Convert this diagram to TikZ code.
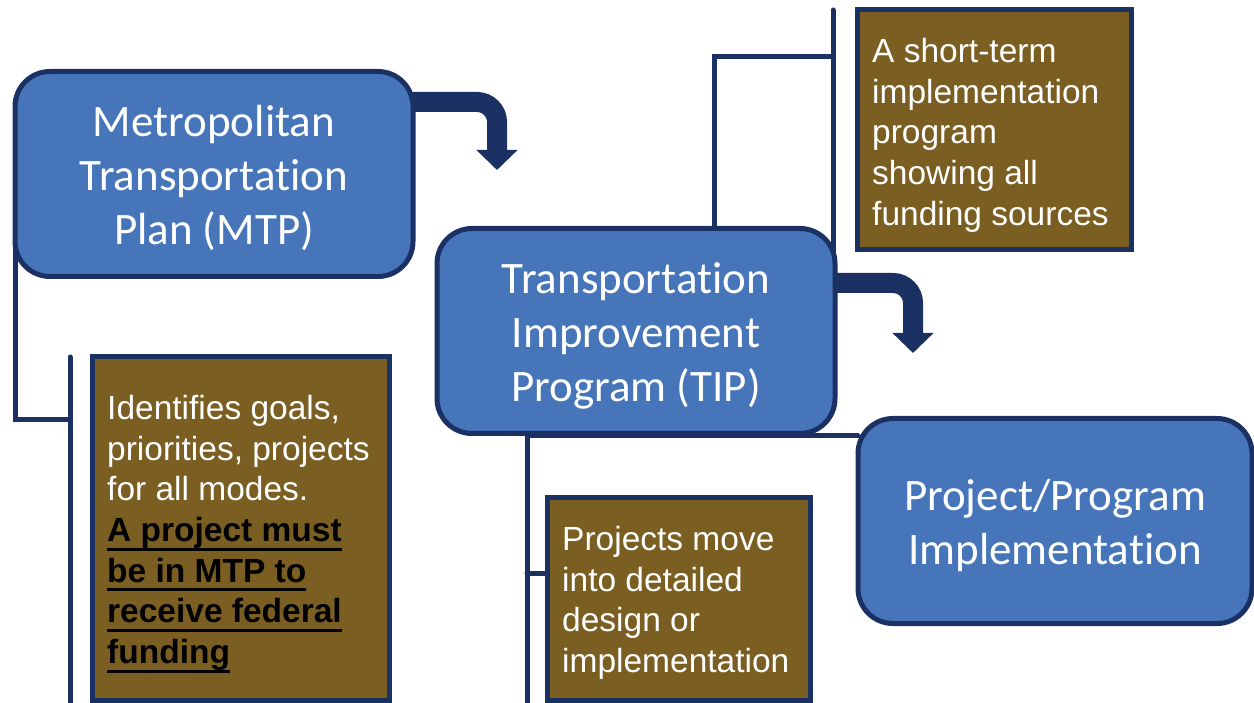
\documentclass[tikz,border=0pt]{standalone}
\usepackage{fontspec}
\setmainfont{Liberation Sans}
\newfontfamily\calibri[RawFeature={-liga;-clig;-dlig;-calt}]{Carlito}
\usetikzlibrary{arrows.meta,calc,backgrounds}
\definecolor{bluebox}{RGB}{70,117,186}
\definecolor{navy}{RGB}{27,48,99}
\definecolor{bronzo}{RGB}{123,94,33}
\newcommand\sottolinea[1]{\leavevmode\setbox0\hbox{#1}\rlap{\rule[-9pt]{\wd0}{3pt}}\box0}
\newcommand\alzo{\rule{0pt}{40pt}}
\tikzset{
>=Stealth,
main node/.style={draw=navy,fill=bluebox,line width=5pt,rounded corners=35pt,minimum width=398pt,minimum height=205pt,outer sep=0pt,text=white,align=center,font=\calibri\fontsize{45}{54}\selectfont},
note box/.style={draw=navy,fill=bronzo,line width=5pt,anchor=north west,outer sep=0pt},
note text/.style={anchor=north west,inner sep=0pt,text=white,align=left,font=\fontsize{33.5}{40.7}\selectfont},
linea/.style={draw=navy,line width=5pt,line cap=round},
freccia/.style={draw=navy,line width=20pt,rounded corners=20pt,-{Triangle[length=20pt,width=40pt]}}}

\begin{document}
\begin{tikzpicture}[x=1pt,y=-1pt]
\useasboundingbox (0,0) rectangle (1254,703);

\node[main node] (mtp) at (214,174) {\alzo Metropolitan\\Transportation\\Plan (MTP)};
\node[main node] (tip) at (636,331) {\alzo Transportation\\Improvement\\Program (TIP)};
\node[main node,minimum width=394pt] (ppi) at (1055,521) {\alzo Project/Program\\Implementation};

\node[note box,minimum width=274pt,minimum height=240pt] (n1) at (857,10) {};
\node[note box,minimum width=297pt,minimum height=343pt] (n2) at (92,357) {};
\node[note box,minimum width=263pt,minimum height=203pt] (n3) at (547,497) {};

\node[note text] (t1) at ([shift={(15,28)}]n1.north west) {A short-term\\implementation\\program\\showing all\\funding sources};
\node[note text] (t2) at ([shift={(15,38)}]n2.north west) {Identifies goals,\\priorities, projects\\for all modes.\\
  \color{black}\bfseries\sottolinea{A project must}\\
  \color{black}\bfseries\sottolinea{be in MTP to}\\
  \color{black}\bfseries\sottolinea{receive federal}\\
  \color{black}\bfseries\sottolinea{funding}};
\node[note text] (t3) at ([shift={(15,29)}]n3.north west) {Projects move\\into detailed\\design or\\implementation};

\coordinate (a1) at (70,420);
\coordinate (b1) at (70,357);
\coordinate (b2) at (70,710);
\coordinate (c1) at (714,57);
\coordinate (c2) at (833,57);
\coordinate (c3) at (833,10);
\coordinate (c4) at (833,260);
\coordinate (d1) at (527,436);
\coordinate (d2) at (527,710);
\coordinate (e1) at (527,573);
\coordinate (f1) at (497,170);
\coordinate (f2) at (913,353);

\begin{pgfonlayer}{background}
\draw[linea] (mtp.west) |- (a1);
\draw[linea] (b1) -- (b2);
\draw[linea] (tip.north -| c1) -- (c1) -- (c2);
\draw[linea] (c3) -- (c4);
\draw[linea] (tip.south -| d1) -- (d2);
\draw[linea] (d1) -- (d1 -| ppi.west);
\draw[linea] (e1) -- (e1 -| n3.west);
\draw[freccia] ([yshift=72pt]mtp.east) -| (f1);
\draw[freccia] ([yshift=48pt]tip.east) -| (f2);
\end{pgfonlayer}

\end{tikzpicture}
\end{document}
